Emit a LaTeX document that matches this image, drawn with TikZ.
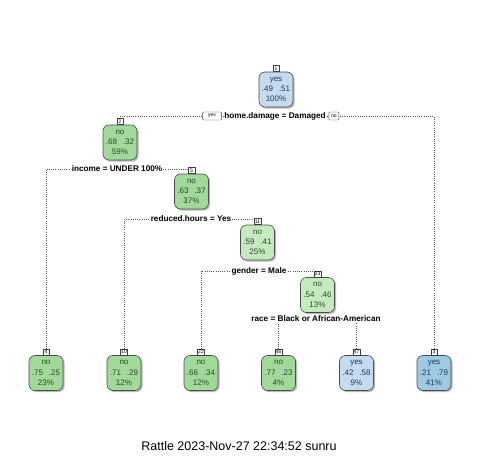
\documentclass[tikz,border=0pt]{standalone}
\usepackage{fontspec}
\setmainfont{Liberation Sans}
\usetikzlibrary{shadows}
\definecolor{gA}{HTML}{A1D99B}
\definecolor{gB}{HTML}{C7E9C0}
\definecolor{bA}{HTML}{C6DBEF}
\definecolor{bB}{HTML}{9ECAE1}
\definecolor{gtxt}{HTML}{2A4A2A}
\definecolor{btxt}{HTML}{1E3A5A}
\pgfdeclarelayer{bg}
\pgfsetlayers{bg,main}
\tikzset{
 tnode/.style={draw=black!70, line width=0.6pt, rounded corners=6pt, minimum width=34pt, minimum height=35pt, inner sep=0pt, align=center, font=\fontsize{8}{10.2}\selectfont, drop shadow={shadow xshift=1.6pt, shadow yshift=-1.6pt, fill=black!45, opacity=0.6}},
 gnode/.style={tnode, fill=gA, text=gtxt},
 gnodeL/.style={tnode, fill=gB, text=gtxt},
 bnode/.style={tnode, fill=bA, text=btxt},
 bnodeD/.style={tnode, fill=bB, text=btxt},
 numbox/.style={draw=black!75, fill=white, line width=0.4pt, inner sep=0.8pt, minimum width=6.5pt, minimum height=6pt, font=\fontsize{5}{5}\selectfont, anchor=south},
 split/.style={fill=white, inner sep=0.8pt, font=\bfseries\fontsize{8.2}{9}\selectfont},
 conn/.style={dash pattern=on 0.6pt off 1.6pt, line width=0.6pt, draw=black!65},
 yn/.style={draw=black!75, fill=white, rounded corners=1pt, inner sep=0.8pt, line width=0.4pt, font=\fontsize{5}{5}\selectfont, minimum height=8pt},
}
\begin{document}
\begin{tikzpicture}[x=1pt,y=-1pt]
\useasboundingbox (0,0) rectangle (480,469);
% internal nodes
\node[bnode] (n1) at (276,89.5) {yes\\.49\hspace{0.75em}.51\\100\%};
\node[numbox] (n1num) at (n1.north) {1};
\node[gnode] (n2) at (120,142.5) {no\\.68\hspace{0.75em}.32\\59\%};
\node[numbox] (n2num) at (n2.north) {2};
\node[gnode] (n5) at (191.5,191.5) {no\\.63\hspace{0.75em}.37\\37\%};
\node[numbox] (n5num) at (n5.north) {5};
\node[gnodeL] (n11) at (257.5,242.5) {no\\.59\hspace{0.75em}.41\\25\%};
\node[numbox] (n11num) at (n11.north) {11};
\node[gnodeL] (n23) at (317.5,295) {no\\.54\hspace{0.75em}.46\\13\%};
\node[numbox] (n23num) at (n23.north) {23};
% leaves
\node[gnode] (n4) at (46,373) {no\\.75\hspace{0.75em}.25\\23\%};
\node[numbox] (n4num) at (n4.north) {4};
\node[gnode] (n10) at (124,373) {no\\.71\hspace{0.75em}.29\\12\%};
\node[numbox] (n10num) at (n10.north) {10};
\node[gnode] (n22) at (201,373) {no\\.66\hspace{0.75em}.34\\12\%};
\node[numbox] (n22num) at (n22.north) {22};
\node[gnode] (n46) at (278.5,373) {no\\.77\hspace{0.75em}.23\\4\%};
\node[numbox] (n46num) at (n46.north) {46};
\node[bnode] (n47) at (356.5,373) {yes\\.42\hspace{0.75em}.58\\9\%};
\node[numbox] (n47num) at (n47.north) {47};
\node[bnodeD] (n3) at (434,373) {yes\\.21\hspace{0.75em}.79\\41\%};
\node[numbox] (n3num) at (n3.north) {3};
% split labels
\node[split] (l1) at (275,116) {home.damage = Damaged};
\node[yn, anchor=east, minimum width=19pt] (yes1) at ([xshift=-1.5pt]l1.west) {yes};
\node[yn, anchor=west, minimum width=10pt] (no1) at ([xshift=2pt]l1.east) {no};
\node[split] (l2) at (117,169) {income = UNDER 100\%};
\node[split] (l5) at (191,219) {reduced.hours = Yes};
\node[split] (l11) at (259,271) {gender = Male};
\node[split] (l23) at (316,319) {race = Black or African-American};
% connectors
\begin{pgfonlayer}{bg}
\draw[conn] (n2num.north) -- (n2num.north |- l1) -- (n3num.north |- l1) -- (n3num.north);
\draw[conn] (n4num.north) -- (n4num.north |- l2) -- (n5num.north |- l2) -- (n5num.north);
\draw[conn] (n10num.north) -- (n10num.north |- l5) -- (n11num.north |- l5) -- (n11num.north);
\draw[conn] (n22num.north) -- (n22num.north |- l11) -- (n23num.north |- l11) -- (n23num.north);
\draw[conn] (n46num.north) -- (n46num.north |- l23) -- (n47num.north |- l23) -- (n47num.north);
\end{pgfonlayer}
% footer
\node[font=\fontsize{12.5}{14}\selectfont] (foot) at (239,446) {Rattle 2023-Nov-27 22:34:52 sunru};
\end{tikzpicture}
\end{document}
